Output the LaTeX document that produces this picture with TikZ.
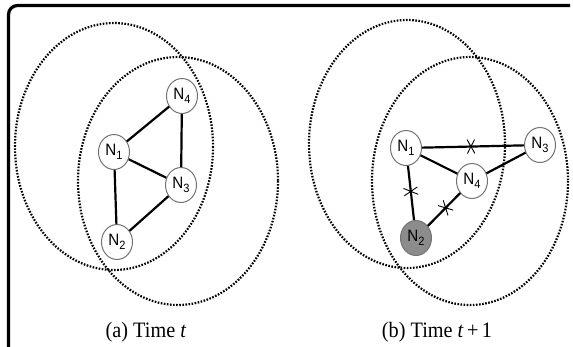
\documentclass[tikz,border=0pt]{standalone}
\usepackage{fontspec}
\setmainfont{Liberation Serif}
\newfontfamily\nodefont{Liberation Sans}
\usetikzlibrary{shapes.misc,shapes.geometric}
\newcommand{\nlab}[1]{\nodefont\scalebox{0.92}[1]{N{\fontsize{12}{12}\selectfont\raisebox{-3.8pt}{#1}}}}
\begin{document}
\begin{tikzpicture}[x=1pt,y=-1pt,
  rangering/.style={line width=2.2pt, dash pattern=on 1.6pt off 1.5pt, line cap=butt},
  nodeell/.style={ellipse, draw=black!55, line width=1pt, fill=white, minimum width=31pt, minimum height=35pt, inner sep=0pt, font=\fontsize{16.5}{16.5}\selectfont},
  goneell/.style={nodeell, fill=black!45},
  linkedge/.style={line width=2.2pt},
  xmarkbox/.style={sloped, cross out, draw, line width=0.9pt, minimum width=6.5pt, minimum height=13pt, inner sep=0pt},
  captext/.style={anchor=base, font=\fontsize{22}{22}\selectfont}]
\useasboundingbox (0,0) rectangle (573,346);
% frame
\draw[line width=3.2pt, rounded corners=9pt] (8.5,347) -- (8.5,5.5) -- (570,5.5);
% panel (a)
\draw[rangering] (114,146.5) ellipse [x radius=99, y radius=123.5];
\draw[rangering] (178,181) ellipse [x radius=100, y radius=124];
\node[nodeell] (a4) at (182,96) {\nlab{4}};
\node[nodeell] (a1) at (114,152) {\nlab{1}};
\node[nodeell] (a3) at (181,185) {\nlab{3}};
\node[nodeell] (a2) at (117,242) {\nlab{2}};
\draw[linkedge] (a1) -- (a4);
\draw[linkedge] (a4) -- (a3);
\draw[linkedge] (a1) -- (a3);
\draw[linkedge] (a1) -- (a2);
\draw[linkedge] (a2) -- (a3);
\node[captext] (capa) at (146,337) {\scalebox{0.92}[1]{(a) Time \textit{t}}};
% panel (b)
\draw[rangering] (407,144) ellipse [x radius=98, y radius=124];
\draw[rangering] (470,181) ellipse [x radius=98, y radius=124];
\node[nodeell] (b1) at (406,148) {\nlab{1}};
\node[nodeell] (b3) at (540,145) {\nlab{3}};
\node[nodeell] (b4) at (472,181) {\nlab{4}};
\node[goneell] (b2) at (416,238) {\nlab{2}};
\draw[linkedge] (b1) -- node[xmarkbox, pos=0.48] (x13) {} (b3);
\draw[linkedge] (b1) -- (b4);
\draw[linkedge] (b4) -- (b3);
\draw[linkedge] (b1) -- node[xmarkbox, pos=0.47] (x12) {} (b2);
\draw[linkedge] (b2) -- node[xmarkbox, pos=0.55] (x24) {} (b4);
\node[captext] (capb) at (437,337) {\scalebox{0.92}[1]{(b) Time \textit{t}\,+\,1}};
\end{tikzpicture}
\end{document}
